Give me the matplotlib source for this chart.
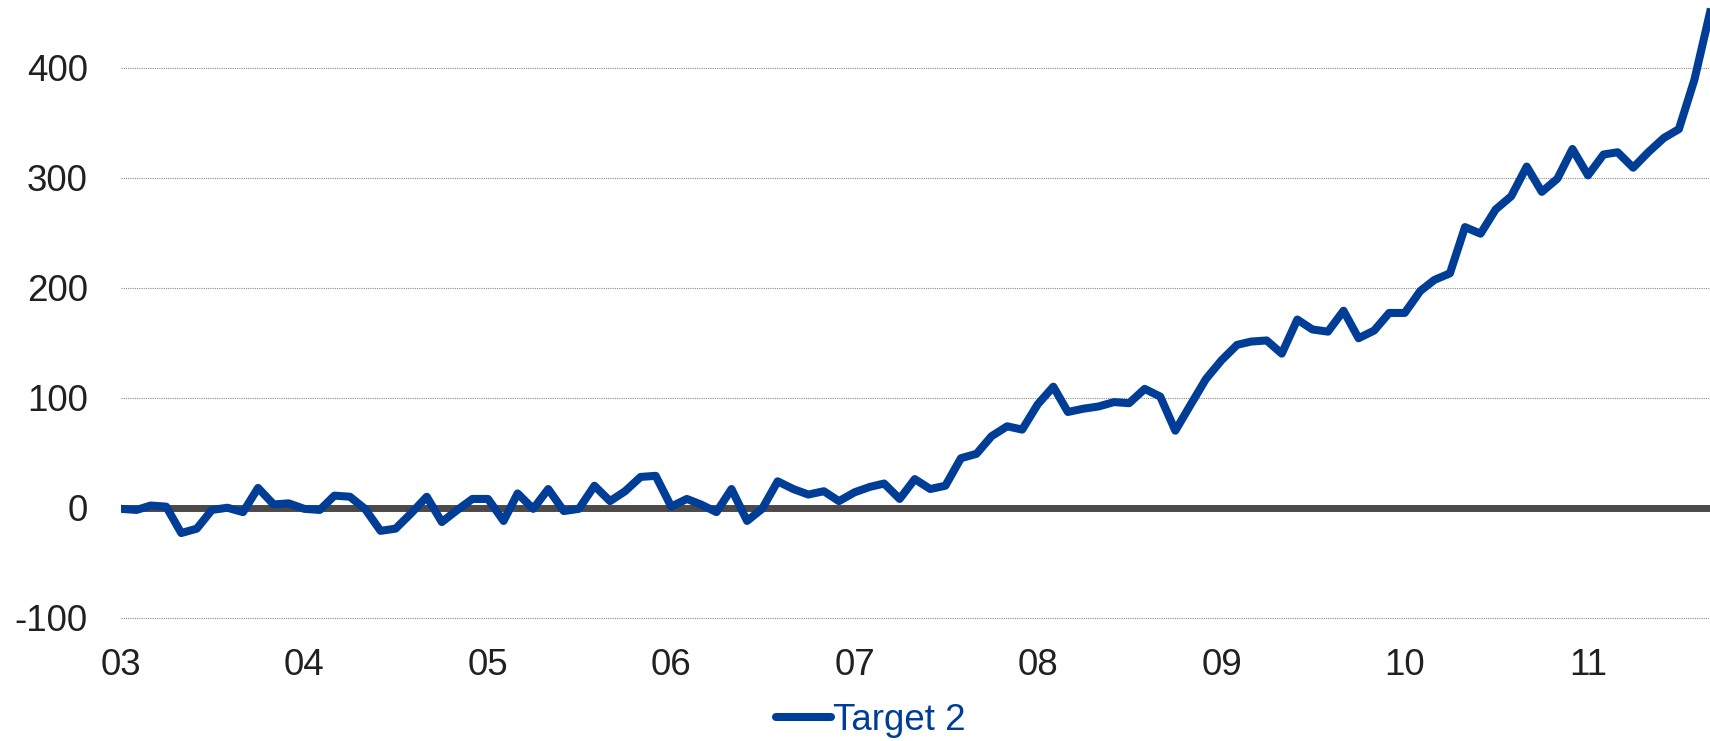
import matplotlib
matplotlib.use("Agg")
import matplotlib.pyplot as plt
import matplotlib.dates as mdates
from matplotlib.lines import Line2D
import pandas as pd

plt.rcParams['font.family'] = ['Liberation Sans', 'DejaVu Sans']
plt.rcParams['axes.unicode_minus'] = False

# monthly values, Jan 2003 .. Sep 2011
values = [
    -1, -2, 2, 1, -23, -19, -2, 0, -4, 18, 3, 4,
    -1, -2, 11, 10, -1, -21, -19, -5, 10, -13, -2, 8,
    8, -12, 13, -1, 17, -3, -1, 20, 6, 15, 28, 29,
    1, 8, 3, -4, 17, -12, -1, 24, 17, 12, 15, 6,
    14, 19, 22, 8, 26, 17, 20, 45, 49, 65, 74, 71,
    94, 110, 87, 90, 92, 96, 95, 108, 101, 70, 94, 117,
    134, 148, 151, 152, 140, 171, 162, 160, 179, 154, 161, 177,
    177, 197, 207, 213, 255, 249, 271, 283, 310, 287, 299, 326,
    302, 321, 323, 309, 323, 336, 344, 389, 450,
]
dates = pd.date_range('2003-01-01', periods=len(values), freq='MS')
series_name = 'Target 2'
yticks = [-100, 0, 100, 200, 300, 400]

blue = '#003d96'
text_col = '#231f20'

fig = plt.figure(figsize=(17.1, 7.41), dpi=100)
ax = fig.add_axes([121 / 1710, 1 - 620 / 741, 1 - 121 / 1710, 620 / 741 - 0.002])

ax.axhline(0, color='#4d4949', lw=5, zorder=2)
ax.plot(dates, values, color=blue, lw=5.8, zorder=3)

ax.set_xlim(dates[0], dates[-1])
ax.set_ylim(-102, 460)
ax.set_yticks(yticks)
ax.grid(axis='y', color='#8c8c8c', lw=0.8, ls=(0, (1, 1)))
ax.set_axisbelow(True)

ax.xaxis.set_major_locator(mdates.YearLocator())
ax.xaxis.set_major_formatter(mdates.DateFormatter('%y'))

for s in ax.spines.values():
    s.set_visible(False)
ax.tick_params(axis='y', length=0, pad=24, labelsize=26.5, labelcolor=text_col)
ax.tick_params(axis='x', length=0, pad=20, labelsize=26.5, labelcolor=text_col)

handle = Line2D([], [], color=blue, lw=5.8, solid_capstyle='round')
leg = fig.legend([handle], [series_name], loc='center',
                 bbox_to_anchor=(871 / 1710, 1 - 720 / 741), frameon=False,
                 fontsize=26.5, handlelength=1.5, handletextpad=0.05,
                 borderpad=0, borderaxespad=0)
for t in leg.get_texts():
    t.set_color(blue)

fig.savefig('out.png', dpi=100, facecolor='white')
